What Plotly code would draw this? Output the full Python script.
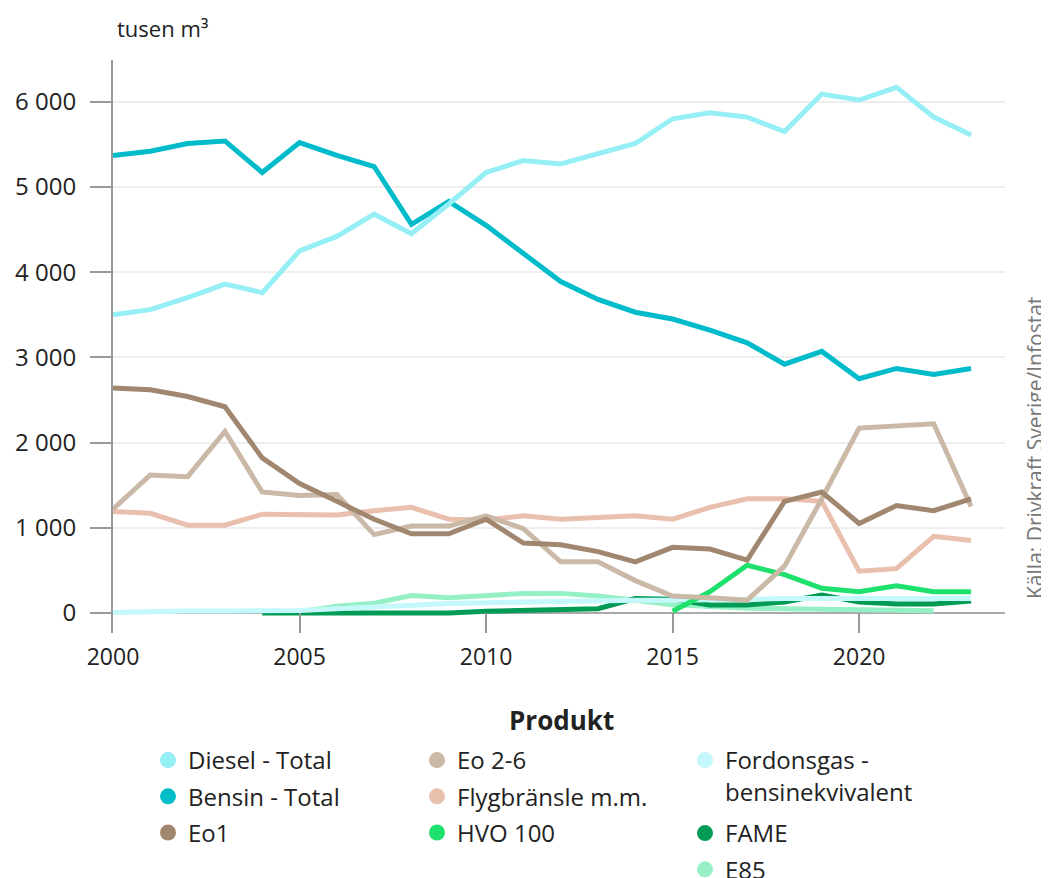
import plotly.graph_objects as go

years = list(range(2000, 2024))

diesel = [3500, 3560, 3700, 3860, 3760, 4250, 4420, 4680, 4450, 4800, 5170, 5310,
          5270, 5390, 5510, 5800, 5870, 5820, 5650, 6090, 6020, 6170, 5820, 5610]
bensin = [5370, 5420, 5510, 5540, 5170, 5520, 5370, 5240, 4560, 4830, 4550, 4220,
          3890, 3680, 3530, 3450, 3320, 3170, 2920, 3070, 2750, 2870, 2800, 2870]
eo1 = [2640, 2620, 2540, 2420, 1820, 1520, 1310, 1100, 930, 930, 1100, 820,
       800, 720, 600, 770, 750, 620, 1310, 1420, 1050, 1260, 1200, 1340]
eo26 = [1220, 1620, 1600, 2130, 1420, 1380, 1390, 920, 1020, 1020, 1140, 990,
        600, 600, 380, 200, 180, 150, 550, 1340, 2170, 2190, 2220, 1250]
flyg = [1190, 1170, 1030, 1030, 1160, 1160, 1150, 1200, 1240, 1100, 1090, 1140,
        1100, 1120, 1140, 1100, 1240, 1340, 1340, 1310, 490, 520, 900, 850]
hvo_years = list(range(2015, 2024))
hvo = [20, 250, 560, 450, 290, 250, 320, 250, 250]
fordonsgas = [5, 20, 22, 22, 25, 30, 50, 70, 100, 110, 120, 130,
              140, 140, 150, 150, 150, 160, 170, 170, 170, 170, 170, 170]
fame_years = list(range(2004, 2024))
fame = [0, 0, 0, 0, 0, 0, 20, 30, 40, 50, 170, 160,
        95, 95, 130, 210, 130, 105, 105, 140]
e85_years = list(range(2005, 2023))
e85 = [15, 80, 115, 205, 180, 210, 230, 230, 200, 150, 95, 75,
       55, 50, 45, 30, 25, 25]

series = [
    ("Diesel - Total", years, diesel, "#97eff6", "legend"),
    ("Bensin - Total", years, bensin, "#00bccb", "legend"),
    ("Eo1", years, eo1, "#a28770", "legend"),
    ("Eo 2-6", years, eo26, "#cbb9a7", "legend2"),
    ("Flygbränsle m.m.", years, flyg, "#e9bfae", "legend2"),
    ("HVO 100", hvo_years, hvo, "#1ee06c", "legend2"),
    ("Fordonsgas -<br>bensinekvivalent", years, fordonsgas, "#c5f8fb", "legend3"),
    ("FAME", fame_years, fame, "#009c56", "legend4"),
    ("E85", e85_years, e85, "#95f1c5", "legend4"),
]

FONT = "Open Sans"
TXT = "#222222"
fig = go.Figure()

# lines (reverse order so that first series are drawn on top)
for name, xs, ys, col, lg in reversed(series):
    fig.add_trace(go.Scatter(x=xs, y=ys, mode="lines", name=name,
                             line=dict(color=col, width=5),
                             showlegend=False, hoverinfo="x+y+name"))

# legend entries (circles)
for i, (name, xs, ys, col, lg) in enumerate(series):
    fig.add_trace(go.Scatter(x=[None], y=[None], mode="markers", name=name,
                             marker=dict(color=col, size=18, symbol="circle"),
                             legend=lg, legendgroup=f"g{i}", showlegend=True))

OFF = 8  # page body margin
W, H = 1049, 878
ml, mt = 113 - OFF, 60 - OFF
mr = W - (1005 - OFF)
mb = H - (633 - OFF)
pw = W - ml - mr
ph = H - mt - mb


def px_x(p):  # reference pixel -> paper x
    return (p - OFF - ml) / pw


def px_y(p):  # reference pixel -> paper y
    return (H - mb - (p - OFF)) / ph


def cx(p):  # reference pixel -> container x
    return (p - OFF) / W


def cy(p):  # reference pixel -> container y
    return 1 - (p - OFF) / H


leg_common = dict(orientation="v", xanchor="left", yanchor="top",
                  xref="container", yref="container", valign="top",
                  font=dict(family=FONT, size=24, color=TXT),
                  tracegroupgap=2, bgcolor="rgba(0,0,0,0)", itemclick=False)

fig.update_layout(
    width=W, height=H,
    margin=dict(l=ml, r=mr, t=mt, b=mb, autoexpand=False),
    plot_bgcolor="white", paper_bgcolor="white",
    separators=", ",
    font=dict(family=FONT, size=22, color=TXT),
    xaxis=dict(range=[2000, 2023.91], tickvals=[2000, 2005, 2010, 2015, 2020],
               showgrid=False, showline=False, zeroline=False,
               ticks="inside", ticklen=20, tickwidth=2, tickcolor="#999999",
               ticklabelstandoff=8, tickfont=dict(family=FONT, size=23, color=TXT)),
    yaxis=dict(range=[-235, 6490], tickvals=[0, 1000, 2000, 3000, 4000, 5000, 6000],
               tickformat=",d", showgrid=True, gridcolor="#eeeeee", gridwidth=2,
               showline=True, linecolor="#999999", linewidth=2,
               zeroline=True, zerolinecolor="#aaaaaa", zerolinewidth=2,
               ticks="outside", ticklen=21, tickwidth=2, tickcolor="#999999",
               ticklabelstandoff=9, tickfont=dict(family=FONT, size=24, color=TXT)),
    legend=dict(x=cx(148), y=cy(738), **leg_common),
    legend2=dict(x=cx(417), y=cy(738), **leg_common),
    legend3=dict(x=cx(685), y=cy(738), **leg_common),
    legend4=dict(x=cx(685), y=cy(811), **leg_common),
    showlegend=True,
)

fig.add_annotation(text="tusen m³", xref="paper", yref="paper",
                   x=px_x(115), y=px_y(28), xanchor="left", yanchor="middle",
                   showarrow=False, font=dict(family=FONT, size=22, color=TXT))
fig.add_annotation(text="<b>Produkt</b>", xref="paper", yref="paper",
                   x=px_x(561), y=px_y(720), xanchor="center", yanchor="middle",
                   showarrow=False, font=dict(family=FONT, size=26, color=TXT))
fig.add_annotation(text="Källa: Drivkraft Sverige/Infostat", xref="paper", yref="paper",
                   x=px_x(1035), y=px_y(448), xanchor="center", yanchor="middle",
                   textangle=-90, showarrow=False,
                   font=dict(family=FONT, size=21, color="#777777"))

fig.write_html("out.html")
